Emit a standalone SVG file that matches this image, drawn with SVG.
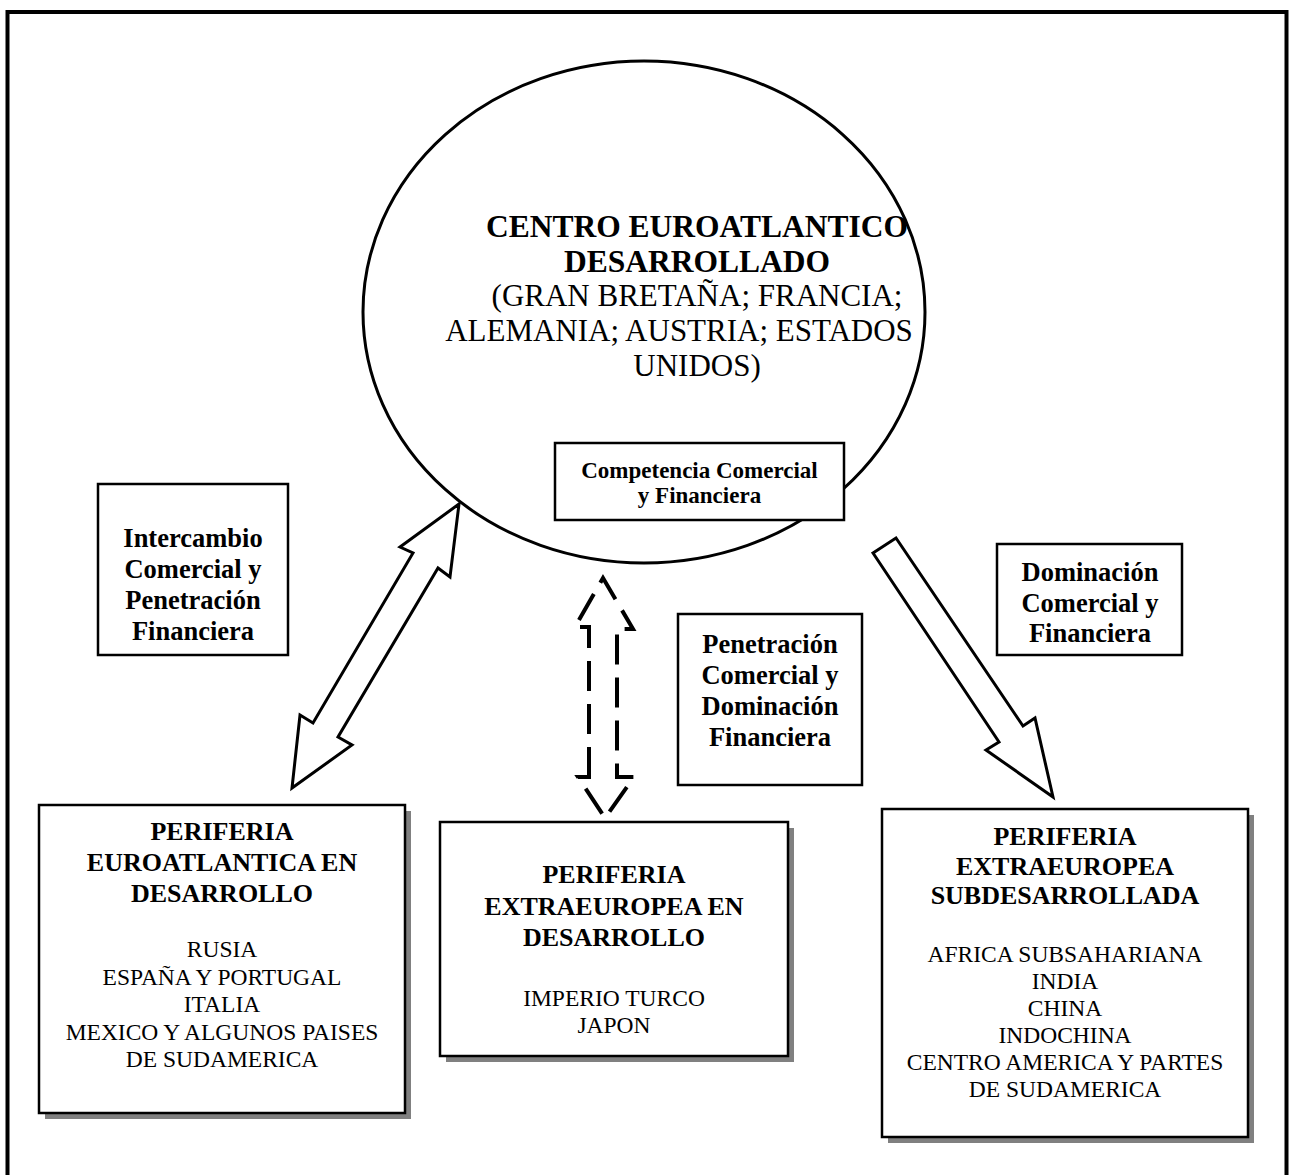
<svg xmlns="http://www.w3.org/2000/svg" width="1290" height="1175" viewBox="0 0 1290 1175">
<style>
.b{fill:#fff;stroke:#000;stroke-width:2.5}
.sh{fill:#808080}
.t{font-family:"Liberation Serif","Times New Roman",serif;fill:#000;text-anchor:middle}
.bd{font-weight:bold}
.lb{font-size:26.5px}
.tt{font-size:26px}
.rg{font-size:23.5px}
.ar{fill:#fff;stroke:#000;stroke-width:3;stroke-linejoin:miter}
.da{fill:none;stroke:#000;stroke-width:4;stroke-dasharray:30 13}
</style>
<rect x="7.5" y="12" width="1279" height="1200" fill="#fff" stroke="#000" stroke-width="4"/>
<g id="connectors">
<path class="ar" d="M459,504 L400,547 L413,553 L313,723 L300,715 L292,788 L352,745 L338,737 L438,568 L450,577 Z"/>
<path class="ar" d="M873,553 L896,538 L1023,726 L1035,718 L1053,797 L986,750 L999,742 Z"/>
<path class="da" d="M589,777 L589,627 L575,627 L603,578 L633,629 L617,629 L617,777 L634,777 L605,818 L578,777 Z"/>
</g>
<g id="centro">
<ellipse cx="644" cy="312" rx="281" ry="251" fill="#fff" stroke="#000" stroke-width="3"/>
<text class="t bd" x="697" y="237" font-size="31.5">CENTRO EUROATLANTICO</text>
<text class="t bd" x="697" y="272" font-size="31.5">DESARROLLADO</text>
<text class="t" x="697" y="306" font-size="31">(GRAN BRETAÑA; FRANCIA;</text>
<text class="t" x="679" y="341" font-size="31">ALEMANIA; AUSTRIA; ESTADOS</text>
<text class="t" x="697" y="376" font-size="31">UNIDOS)</text>
</g>
<g id="competencia">
<rect class="b" x="555" y="443" width="289" height="77"/>
<text class="t bd" x="699.5" y="478" font-size="23">Competencia Comercial</text>
<text class="t bd" x="699.5" y="503" font-size="23">y Financiera</text>
</g>
<g id="intercambio">
<rect class="b" x="98" y="484" width="190" height="171"/>
<text class="t bd lb" x="193" y="547">Intercambio</text>
<text class="t bd lb" x="193" y="578">Comercial y</text>
<text class="t bd lb" x="193" y="609">Penetración</text>
<text class="t bd lb" x="193" y="640">Financiera</text>
</g>
<g id="penetracion">
<rect class="b" x="678" y="614" width="184" height="171"/>
<text class="t bd lb" x="770" y="653">Penetración</text>
<text class="t bd lb" x="770" y="684">Comercial y</text>
<text class="t bd lb" x="770" y="715">Dominación</text>
<text class="t bd lb" x="770" y="746">Financiera</text>
</g>
<g id="dominacion">
<rect class="b" x="997" y="544" width="185" height="111"/>
<text class="t bd lb" x="1090" y="581">Dominación</text>
<text class="t bd lb" x="1090" y="611.5">Comercial y</text>
<text class="t bd lb" x="1090" y="642">Financiera</text>
</g>
<g id="periferia-euroatlantica">
<rect class="sh" x="45" y="811" width="366" height="308"/>
<rect class="b" x="39" y="805" width="366" height="308"/>
<text class="t bd tt" x="222" y="840">PERIFERIA</text>
<text class="t bd tt" x="222" y="871">EUROATLANTICA EN</text>
<text class="t bd tt" x="222" y="902">DESARROLLO</text>
<text class="t rg" x="222" y="957">RUSIA</text>
<text class="t rg" x="222" y="984.5">ESPAÑA Y PORTUGAL</text>
<text class="t rg" x="222" y="1012">ITALIA</text>
<text class="t rg" x="222" y="1039.5">MEXICO Y ALGUNOS PAISES</text>
<text class="t rg" x="222" y="1067">DE SUDAMERICA</text>
</g>
<g id="periferia-extraeuropea-desarrollo">
<rect class="sh" x="446" y="828" width="348" height="234"/>
<rect class="b" x="440" y="822" width="348" height="234"/>
<text class="t bd tt" x="614" y="883">PERIFERIA</text>
<text class="t bd tt" x="614" y="915">EXTRAEUROPEA EN</text>
<text class="t bd tt" x="614" y="946">DESARROLLO</text>
<text class="t rg" x="614" y="1006">IMPERIO TURCO</text>
<text class="t rg" x="614" y="1033">JAPON</text>
</g>
<g id="periferia-subdesarrollada">
<rect class="sh" x="888" y="815" width="366" height="328"/>
<rect class="b" x="882" y="809" width="366" height="328"/>
<text class="t bd tt" x="1065" y="845">PERIFERIA</text>
<text class="t bd tt" x="1065" y="874.5">EXTRAEUROPEA</text>
<text class="t bd tt" x="1065" y="904">SUBDESARROLLADA</text>
<text class="t rg" x="1065" y="962">AFRICA SUBSAHARIANA</text>
<text class="t rg" x="1065" y="989">INDIA</text>
<text class="t rg" x="1065" y="1016">CHINA</text>
<text class="t rg" x="1065" y="1043">INDOCHINA</text>
<text class="t rg" x="1065" y="1070">CENTRO AMERICA Y PARTES</text>
<text class="t rg" x="1065" y="1097">DE SUDAMERICA</text>
</g>
</svg>
